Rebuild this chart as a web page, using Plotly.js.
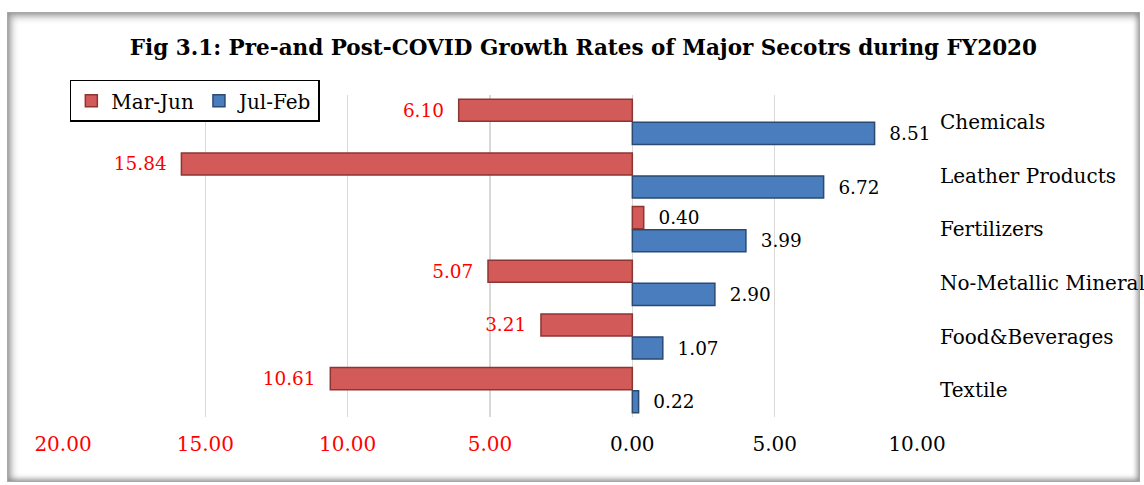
<!DOCTYPE html>
<html><head><meta charset="utf-8">
<script src="https://cdn.plot.ly/plotly-3.0.1.min.js"></script>
<style>
body{margin:0;background:#fff;}
#wrap{position:relative;width:1144px;height:485px;}
#chart{position:absolute;left:0;top:0;width:1144px;height:485px;}
#frame{position:absolute;left:7px;top:12px;width:1131px;height:468px;border:1px solid #a8a8a8;box-shadow:inset 2px 2px 7px 2px rgba(0,0,0,0.3), inset -1px -1px 5px 1px rgba(0,0,0,0.25);pointer-events:none;}
</style></head>
<body><div id="wrap"><div id="chart"></div><div id="frame"></div></div>
<script>
const categories = ["Chemicals","Leather Products","Fertilizers","No-Metallic Mineral","Food&Beverages","Textile"];
const marJun = [-6.10,-15.84,0.40,-5.07,-3.21,-10.61];
const julFeb = [8.51,6.72,3.99,2.90,1.07,0.22];
const tickVals = [-20,-15,-10,-5,0,5,10];
const tickLabels = ["20.00","15.00","10.00","5.00","0.00","5.00","10.00"];

const FONT = "DejaVu Serif, Liberation Serif, serif";
const SP = "\u00a0\u00a0";
const fmt = v => v < 0 ? Math.abs(v).toFixed(2) + SP : SP + v.toFixed(2);
const col = v => v < 0 ? "#ff0000" : "#000000";

const traces = [
  {type:"bar", orientation:"h", name:"Mar-Jun", y:categories, x:marJun,
   text:marJun.map(fmt), textposition:"outside", cliponaxis:false,
   textfont:{family:FONT,size:20,color:marJun.map(col)},
   marker:{color:"#d25b59",line:{color:"#8c3533",width:1.5}}, hoverinfo:"x+y"},
  {type:"bar", orientation:"h", name:"Jul-Feb", y:categories, x:julFeb,
   text:julFeb.map(fmt), textposition:"outside", cliponaxis:false,
   textfont:{family:FONT,size:20,color:julFeb.map(col)},
   marker:{color:"#4a7dbd",line:{color:"#2a4a72",width:1.5}}, hoverinfo:"x+y"}
];

const layout = {
  width:1144, height:485,
  margin:{l:63,r:227,t:95,b:68},
  paper_bgcolor:"#ffffff", plot_bgcolor:"#ffffff",
  font:{family:FONT,size:20,color:"#000"},
  title:{text:"<b>Fig 3.1: Pre-and Post-COVID Growth Rates of Major Secotrs during FY2020</b>",
         font:{family:FONT,size:21.5,color:"#000"}, x:0.51, xanchor:"center", y:0.903, yanchor:"middle"},
  barmode:"group", bargap:0.14, bargroupgap:0.04,
  showlegend:true,
  legend:{orientation:"h", x:0.008, xanchor:"left", y:1.047, yanchor:"top",
          bgcolor:"#ffffff", bordercolor:"#000", borderwidth:1.5,
          font:{family:FONT,size:20,color:"#000"}, traceorder:"normal", itemwidth:30},
  xaxis:{range:[-20,10], tickvals:tickVals,
         ticktext:tickLabels.map((t,i)=> tickVals[i]<0 ? '<span style="color:#ff0000">'+t+'</span>' : t),
         showgrid:true, gridcolor:"#d9d9d9", gridwidth:1.5, zeroline:true, zerolinecolor:"#d9d9d9", zerolinewidth:1.5,
         showline:false, ticks:"outside", ticklen:9, tickcolor:"rgba(0,0,0,0)",
         tickfont:{family:FONT,size:20,color:"#000"}, fixedrange:true},
  yaxis:{type:"category", categoryorder:"array", categoryarray:categories, autorange:"reversed",
         side:"right", showgrid:false, zeroline:false, showline:false,
         ticks:"outside", ticklen:18, tickcolor:"rgba(0,0,0,0)",
         tickfont:{family:FONT,size:20,color:"#000"}, fixedrange:true}
};
Plotly.newPlot("chart", traces, layout, {displayModeBar:false, staticPlot:true});
</script></body></html>
